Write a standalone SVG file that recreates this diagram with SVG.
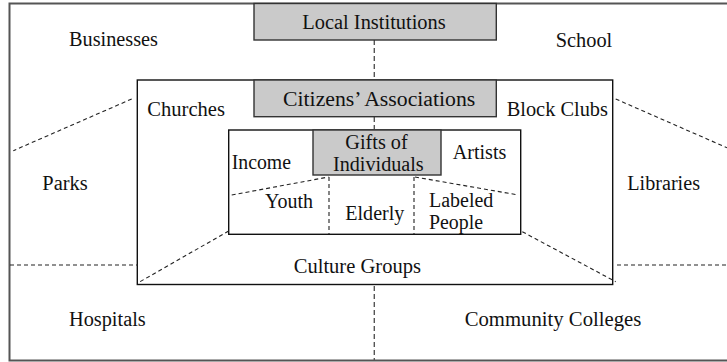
<svg xmlns="http://www.w3.org/2000/svg" width="727" height="362" viewBox="0 0 727 362">
<style>
text{font-family:"Liberation Serif","DejaVu Serif",serif;font-size:20px;fill:#111;}
.box{fill:#fff;stroke:#111;stroke-width:1.4;}
.gray{fill:#cacaca;stroke:#333;stroke-width:1.4;}
.outer{fill:#fff;stroke:#555;stroke-width:2;}
.d{stroke:#222;stroke-width:1.1;stroke-dasharray:4 3;fill:none;}
.dv{stroke:#555;stroke-width:1.4;stroke-dasharray:5 3;fill:none;}
</style>
<rect width="727" height="362" fill="#fff"/>
<g id="outer"><rect class="outer" x="9.5" y="3.5" width="740" height="357"/></g>
<g id="middle"><rect class="box" x="137.3" y="80" width="475.4" height="204.5"/></g>
<g id="inner"><rect class="box" x="228.7" y="130" width="292" height="104.3"/></g>
<g id="connectors">
<line class="dv" x1="374.3" y1="40" x2="374.3" y2="80"/>
<line class="dv" x1="374.3" y1="117" x2="374.3" y2="130"/>
<line class="dv" x1="374.3" y1="286" x2="374.3" y2="361"/>
<line class="d" x1="131.7" y1="99" x2="13.3" y2="150.7"/>
<line class="d" x1="615.7" y1="99" x2="736.7" y2="152"/>
<line class="d" x1="10" y1="265" x2="138" y2="265"/>
<line class="d" x1="617" y1="265" x2="740" y2="265"/>
<line class="d" x1="228.7" y1="231" x2="140" y2="281.7"/>
<line class="d" x1="522.3" y1="231.7" x2="615.7" y2="281.7"/>
<line class="d" x1="231.7" y1="195" x2="328.5" y2="177"/>
<line class="d" x1="329" y1="177" x2="329" y2="234"/>
<line class="d" x1="414" y1="177" x2="414" y2="234"/>
<line class="d" x1="415" y1="177" x2="515.5" y2="194.5"/>
</g>
<g id="local-institutions"><rect class="gray" x="254" y="3.5" width="242.3" height="36.5"/><text x="302.3" y="29.3" textLength="143.4" lengthAdjust="spacingAndGlyphs">Local Institutions</text></g>
<g id="citizens-associations"><rect class="gray" x="254" y="80" width="242.3" height="36.7"/><text x="283" y="106" textLength="192.3" lengthAdjust="spacingAndGlyphs">Citizens’ Associations</text></g>
<g id="gifts"><rect class="gray" x="313" y="130" width="128" height="45"/><text x="345.3" y="149" textLength="62.4" lengthAdjust="spacingAndGlyphs">Gifts of</text><text x="333" y="170.7" textLength="90.7" lengthAdjust="spacingAndGlyphs">Individuals</text></g>
<g id="businesses"><text x="69" y="46" textLength="89" lengthAdjust="spacingAndGlyphs">Businesses</text></g>
<g id="school"><text x="555.7" y="46.7" textLength="56.6" lengthAdjust="spacingAndGlyphs">School</text></g>
<g id="churches"><text x="147.3" y="116" textLength="77.7" lengthAdjust="spacingAndGlyphs">Churches</text></g>
<g id="block-clubs"><text x="506.7" y="116" textLength="101.3" lengthAdjust="spacingAndGlyphs">Block Clubs</text></g>
<g id="income"><text x="231.7" y="169.3" textLength="59.3" lengthAdjust="spacingAndGlyphs">Income</text></g>
<g id="artists"><text x="452.7" y="159.3" textLength="53.6" lengthAdjust="spacingAndGlyphs">Artists</text></g>
<g id="parks"><text x="42.3" y="190" textLength="45.4" lengthAdjust="spacingAndGlyphs">Parks</text></g>
<g id="libraries"><text x="627.3" y="190" textLength="72.7" lengthAdjust="spacingAndGlyphs">Libraries</text></g>
<g id="youth"><text x="265" y="208" textLength="48" lengthAdjust="spacingAndGlyphs">Youth</text></g>
<g id="elderly"><text x="345.3" y="220" textLength="59" lengthAdjust="spacingAndGlyphs">Elderly</text></g>
<g id="labeled-people"><text x="429" y="207" textLength="64.3" lengthAdjust="spacingAndGlyphs">Labeled</text><text x="429" y="229" textLength="54" lengthAdjust="spacingAndGlyphs">People</text></g>
<g id="culture-groups"><text x="293.7" y="272.7" textLength="127.3" lengthAdjust="spacingAndGlyphs">Culture Groups</text></g>
<g id="hospitals"><text x="69" y="326" textLength="76.7" lengthAdjust="spacingAndGlyphs">Hospitals</text></g>
<g id="community-colleges"><text x="464.7" y="326" textLength="176.6" lengthAdjust="spacingAndGlyphs">Community Colleges</text></g>
</svg>
